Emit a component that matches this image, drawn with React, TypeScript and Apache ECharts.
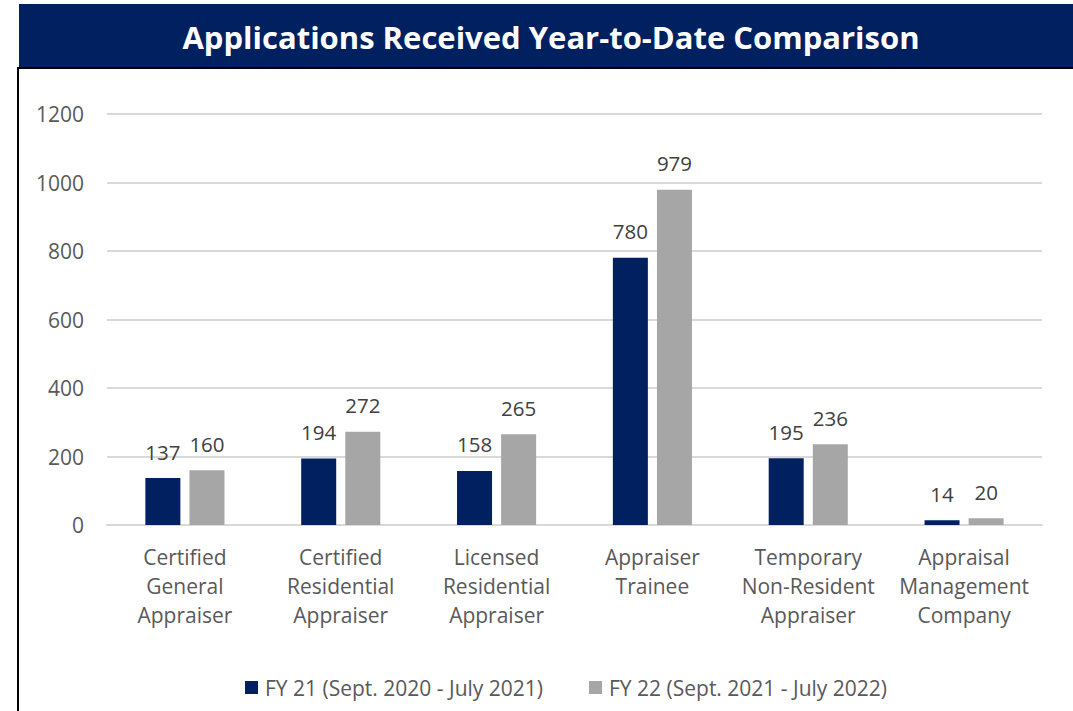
import React, { useEffect, useRef } from "react";
import * as echarts from "echarts";

const categories = [
  "Certified\nGeneral\nAppraiser",
  "Certified\nResidential\nAppraiser",
  "Licensed\nResidential\nAppraiser",
  "Appraiser\nTrainee",
  "Temporary\nNon-Resident\nAppraiser",
  "Appraisal\nManagement\nCompany",
];
const fy21 = [137, 194, 158, 780, 195, 14];
const fy22 = [160, 272, 265, 979, 236, 20];
const seriesNames = ["FY 21 (Sept. 2020 - July 2021)", "FY 22 (Sept. 2021 - July 2022)"];
const titleText = "Applications Received Year-to-Date Comparison";

const FONT = "'Open Sans', Lato, sans-serif";

export default function App() {
  const ref = useRef<HTMLDivElement>(null);
  useEffect(() => {
    if (!ref.current) return;
    const chart = echarts.init(ref.current, null, { renderer: "svg" });
    const labelStyle = {
      show: true,
      position: "top" as const,
      distance: 16,
      color: "#404040",
      fontSize: 20.5,
      fontFamily: FONT,
    };
    chart.setOption({
      animation: false,
      backgroundColor: "#ffffff",
      textStyle: { fontFamily: FONT },
      graphic: [
        { type: "rect", shape: { x: 19, y: 4, width: 1060, height: 63 }, style: { fill: "#002060" }, z: 0 },
        { type: "rect", shape: { x: 19, y: 67, width: 1060, height: 2 }, style: { fill: "#000000" }, z: 0 },
        { type: "rect", shape: { x: 17, y: 67, width: 2, height: 650 }, style: { fill: "#000000" }, z: 0 },
      ],
      title: {
        text: titleText,
        left: 546,
        top: 16,
        textAlign: "center",
        textStyle: { color: "#ffffff", fontSize: 31, fontWeight: "bold", fontFamily: FONT },
      },
      legend: {
        data: seriesNames,
        bottom: 8,
        left: 240,
        itemWidth: 13,
        itemHeight: 13,
        itemGap: 46,
        icon: "rect",
        textStyle: { color: "#595959", fontSize: 21, fontFamily: FONT, padding: [0, 0, 0, 2] },
      },
      grid: { left: 107, right: 31, top: 114, bottom: 186, containLabel: false },
      xAxis: {
        type: "category",
        data: categories,
        axisLine: { lineStyle: { color: "#D9D9D9", width: 2 } },
        axisTick: { show: false },
        axisLabel: { color: "#595959", fontSize: 21, lineHeight: 29, margin: 17, fontFamily: FONT, interval: 0 },
      },
      yAxis: {
        type: "value",
        min: 0,
        max: 1200,
        interval: 200,
        axisLine: { show: false },
        axisTick: { show: false },
        axisLabel: {
          color: "#595959",
          fontSize: 21,
          margin: 23,
          fontFamily: FONT,
          formatter: (v: number) => String(v),
        },
        splitLine: { lineStyle: { color: "#D9D9D9", width: 2 } },
      },
      series: [
        {
          name: seriesNames[0],
          type: "bar",
          data: fy21,
          barWidth: 35,
          barGap: "26%",
          itemStyle: { color: "#002060" },
          label: labelStyle,
        },
        {
          name: seriesNames[1],
          type: "bar",
          data: fy22,
          barWidth: 35,
          itemStyle: { color: "#A6A6A6" },
          label: labelStyle,
        },
      ],
    });
    return () => chart.dispose();
  }, []);
  return (
    <div
      ref={ref}
      style={{ position: "fixed", left: 0, top: 0, width: 1073, height: 711, background: "#fff" }}
    />
  );
}
